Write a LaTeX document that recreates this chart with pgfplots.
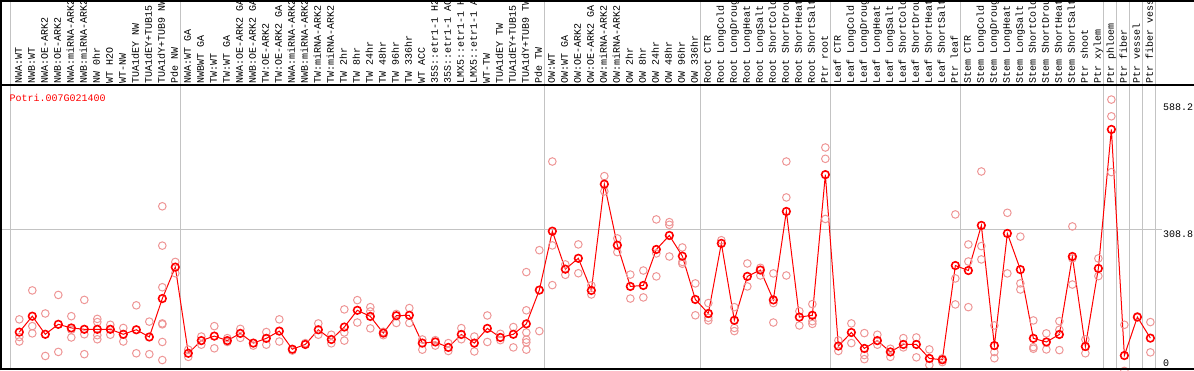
\documentclass[border=0pt]{standalone}
\usepackage{pgfplots}
\pgfplotsset{compat=1.18}
\usepackage{pgfplotstable}
\usepackage{fontspec}
\setmainfont{Liberation Mono}
\definecolor{rep}{RGB}{238,150,150}
\definecolor{gridg}{RGB}{195,195,195}
\newcommand{\lblfont}{\fontsize{10bp}{12bp}\selectfont}

\pgfplotstableread{
x y
0 81.8
1 117
2 77
3 99
4 91
5 88
6 88
7 88
8 77
9 87
10 71
11 156
12 225.5
13 35
14 63
15 73
16 63
17 79
18 57.5
19 68
20 84
21 44
22 54.5
23 87
24 65.5
25 93
26 130
27 116.5
28 79.6
29 118
30 119
31 57.5
32 60
33 48
34 76.6
35 57.5
36 90
37 70
38 77
39 100
40 174.7
41 305
42 221
43 245
44 174
45 409
46 274
47 182.8
48 185
49 264.6
50 295.5
51 249.8
52 154
53 123
54 278
55 108
56 205
57 219
58 153
59 348.6
60 115
61 119
62 430
63 51
64 81
65 45.7
66 63
67 38
68 54.5
69 54.5
70 23.6
71 20.6
72 229
73 218
74 317.7
75 52
76 300
77 220
78 68
79 60
80 76.6
81 249
82 50
83 222.6
84 530
85 30
86 115
87 68.5
}\means

\pgfplotstableread{
x y
0 110
0 71
0 61
1 174
1 95
1 79
2 123
2 29
3 164
3 38
4 117
4 87
4 70
5 153
5 77
5 33
6 111
6 104
6 75
6 66
7 98
7 76
8 91
8 61
9 141
9 35
10 105
10 33
11 360
11 273
11 181
11 101
11 99
11 60
11 20
12 237
12 212
13 43
13 27
14 72
14 54
15 95
15 46
16 68.5
16 60
17 89
17 69
18 52
19 82
19 54
20 110
20 61
21 41
22 57.5
23 101
23 76
24 76
24 57
25 132
25 81
25 63
26 152.5
26 103
27 137
27 127.5
27 90
28 82.5
28 75
29 122
29 102
30 135
30 102
31 65.5
31 43
32 64
32 52
33 57.5
33 40
34 90.6
34 66
35 72
35 39
36 118.6
36 60
37 78
37 64
38 93
38 48
39 214.5
39 130
39 81
39 65
39 59
39 43
40 263
40 84
41 459
41 273.5
41 185.7
42 231.5
42 208.5
43 275.7
43 212
44 185
44 165
45 426.7
45 393
46 289
46 258.7
47 209
47 156
48 218
48 158.5
49 331
49 255.8
49 205
50 325
50 319
50 249
51 269
51 237
51 233
52 189.5
52 119
53 146
53 113.5
53 107.6
54 285
55 137
55 91
55 84
56 233.6
56 182.8
57 224
57 207
58 211.6
58 146
58 103
59 459
59 379.6
59 207
60 128
60 96.5
61 143.7
61 106
61 100
62 490
62 465
62 332
63 63.4
63 40
64 101
64 57.5
65 79.6
65 31
65 22
66 76
66 54
67 45
67 27
68 68.5
68 48
69 70
69 26
70 43.5
70 9
71 23.6
71 15.5
72 342
72 200.5
72 143
73 275.6
73 238
73 137
74 437
74 272
74 242.5
75 96.6
75 37.6
75 24
76 345.6
76 211.6
77 293
77 189.5
77 176
78 107.6
78 48.6
78 45
79 79
79 43.5
80 106
80 87
80 42
81 315.5
81 244.7
81 187
82 65.6
82 35
83 244.7
83 205.6
84 596
84 559
84 435.6
85 98
85 -4
86 116.5
87 104
87 37
}\reps

\begin{document}
\begin{tikzpicture}[x=1bp,y=1bp]
\begin{axis}[
  at={(0,2)}, anchor=south west,
  scale only axis, width=1194bp, height=283bp,
  xmin=-1.485, xmax=90.362, ymin=0, ymax=625.8,
  clip=false,
  axis line style={draw=none},
  major tick length=0pt,
  xtick={0,1,...,87},
  xticklabels={NWA:WT,NWB:WT,NWA:OE-ARK2,NWB:OE-ARK2,NWA:miRNA-ARK2,NWB:miRNA-ARK2,NW 0hr,WT H2O,WT-NW,TUA1dEY NW,TUA1dEY+TUB15,TUA1dY+TUB9 NW,Pde NW,NWA:WT GA,NWBWT GA,TW:WT,TW:WT GA,NWA:OE-ARK2 GA,NWB:OE-ARK2 GA,TW:OE-ARK2,TW:OE-ARK2 GA,NWA:miRNA-ARK2,NWB:miRNA-ARK2,TW:miRNA-ARK2,TW:miRNA-ARK2,TW 2hr,TW 8hr,TW 24hr,TW 48hr,TW 96hr,TW 336hr,WT ACC,35S::etr1-1 H2,35S::etr1-1 AC,LMX5::etr1-1 H,LMX5::etr1-1 A,WT-TW,TUA1dEY TW,TUA1dEY+TUB15,TUA1dY+TUB9 TW,Pde TW,OW:WT,OW:WT GA,OW:OE-ARK2,OW:OE-ARK2 GA,OW:miRNA-ARK2,OW:miRNA-ARK2,OW 2hr,OW 8hr,OW 24hr,OW 48hr,OW 96hr,OW 336hr,Root CTR,Root LongCold,Root LongDroug,Root LongHeat,Root LongSalt,Root ShortCold,Root ShortDrou,Root ShortHeat,Root ShortSalt,Ptr root,Leaf CTR,Leaf LongCold,Leaf LongDroug,Leaf LongHeat,Leaf LongSalt,Leaf ShortCold,Leaf ShortDrou,Leaf ShortHeat,Leaf ShortSalt,Ptr leaf,Stem CTR,Stem LongCold,Stem LongDroug,Stem LongHeat,Stem LongSalt,Stem ShortCold,Stem ShortDrou,Stem ShortHeat,Stem ShortSalt,Ptr shoot,Ptr xylem,Ptr phloem,Ptr fiber,Ptr vessel,Ptr fiber vess},
  xticklabel pos=right,
  xticklabel shift=3bp,
  xticklabel style={rotate=90, anchor=west, inner sep=0pt, outer sep=0pt, font=\lblfont, text height=7bp, text depth=2bp},
  ytick={308.8,588.2}, yticklabels={308.8,588.2},
  yticklabel pos=right,
  yticklabel style={anchor=north west, inner sep=0pt, outer sep=0pt, xshift=-31bp, yshift=-1bp, font=\lblfont},
  extra y ticks={0}, extra y tick labels={0},
  extra y tick style={yticklabel style={anchor=south west, yshift=4bp}},
]
\pgfplotsinvokeforeach{-0.7,12.4,40.4,52.4,62.4,72.4,83.4,84.4,85.4,86.4,87.4}{
  \draw[gridg, line width=1bp] (axis cs:#1,0) -- (axis cs:#1,814);
}
\draw[gridg, line width=1bp] (axis cs:-1.4,308.8) -- (axis cs:87.9,308.8);
\addplot[only marks, mark=o, mark size=3.8bp, color=rep, mark options={line width=1bp}] table {\reps};
\addplot[red, line width=1bp, mark=o, mark size=3.8bp, mark options={line width=1.6bp, red}] table {\means};
\end{axis}
\draw[black, line width=2bp] (1,0) -- (1,370);
\draw[black, line width=2bp] (0,369) -- (1194,369);
\draw[black, line width=1.5bp] (0,285) -- (1194,285);
\draw[black, line width=2bp] (0,1.5) -- (1194,1.5);
\node[anchor=base west, inner sep=0pt, text=red, font=\lblfont] at (9.5,269) {Potri.007G021400};
\pgfresetboundingbox
\path[use as bounding box] (0,0) rectangle (1194,370);
\end{tikzpicture}
\end{document}
